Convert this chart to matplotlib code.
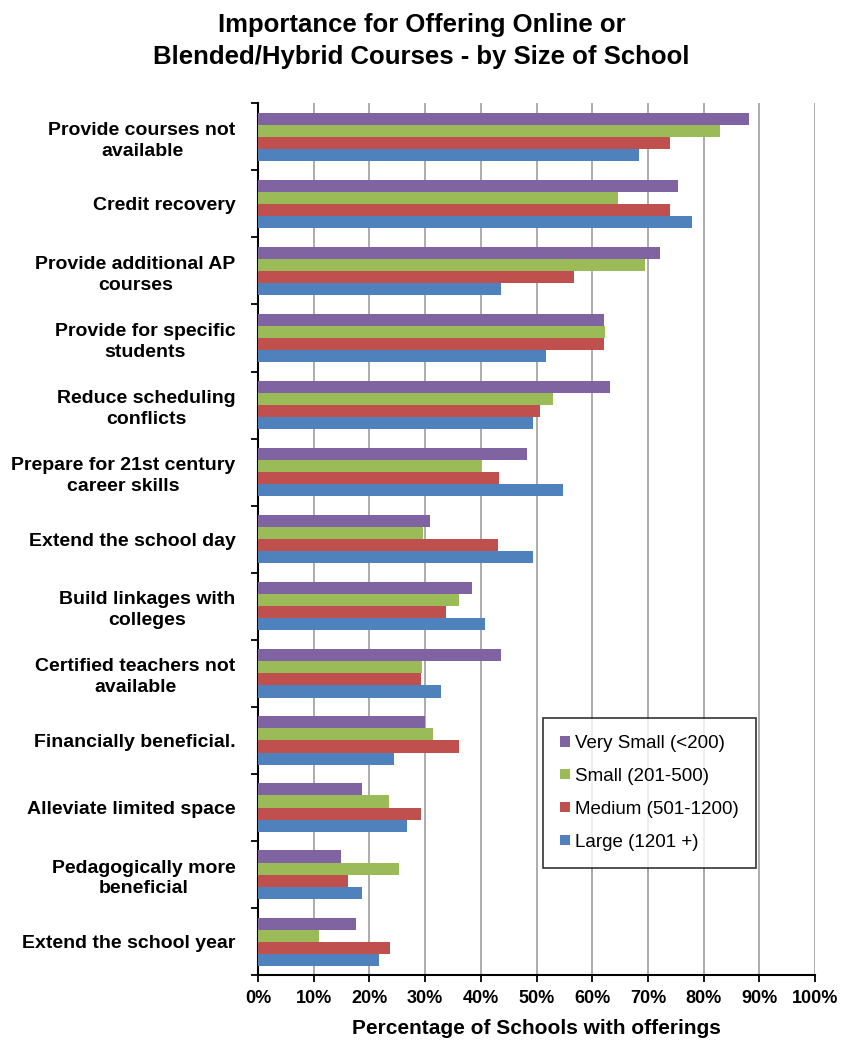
import numpy as np
import matplotlib
matplotlib.use('Agg')
import matplotlib.pyplot as plt
from matplotlib.ticker import PercentFormatter

plt.rcParams['font.family'] = ['Liberation Sans', 'DejaVu Sans']

categories = [
    'Provide courses not\navailable',
    'Credit recovery',
    'Provide additional AP\ncourses',
    'Provide for specific\nstudents',
    'Reduce scheduling\nconflicts',
    'Prepare for 21st century\ncareer skills',
    'Extend the school day',
    'Build linkages with\ncolleges',
    'Certified teachers not\navailable',
    'Financially beneficial.',
    'Alleviate limited space',
    'Pedagogically more\nbeneficial',
    'Extend the school year',
]
very_small = [88.2, 75.3, 72.1, 62.1, 63.2, 48.3, 30.8, 38.4, 43.7, 30.0, 18.6, 14.9, 17.6]
small = [82.9, 64.7, 69.4, 62.3, 53.0, 40.1, 29.7, 36.1, 29.5, 31.4, 23.5, 25.3, 11.0]
medium = [74.0, 74.0, 56.8, 62.1, 50.7, 43.2, 43.0, 33.8, 29.2, 36.1, 29.2, 16.1, 23.7]
large = [68.3, 77.9, 43.7, 51.7, 49.4, 54.7, 49.4, 40.7, 32.9, 24.4, 26.7, 18.6, 21.7]

series = [very_small, small, medium, large]
labels = ['Very Small (<200)', 'Small (201-500)', 'Medium (501-1200)', 'Large (1201 +)']
colors = ['#8064A2', '#9BBB59', '#C0504D', '#4F81BD']

fig = plt.figure(figsize=(8.43, 10.43), dpi=100)
ax = fig.add_axes([0.306, 0.065, 0.661, 0.836])

n = len(categories)
y = np.arange(n)
h = 0.18
for i, (vals, lab, col) in enumerate(zip(series, labels, colors)):
    offs = (i - 1.5) * h
    ax.barh(y + offs, vals, height=h, color=col, label=lab, zorder=3,
            edgecolor='none')

ax.set_ylim(n - 0.5, -0.5)
ax.set_xlim(0, 100)
ax.set_xticks(np.arange(0, 101, 10))
ax.xaxis.set_major_formatter(PercentFormatter(decimals=0))
ax.grid(axis='x', color='#A6A6A6', linewidth=1.3, zorder=0)

# category labels: block right-aligned, lines centred (Excel style)
ax.set_yticks(y)
ax.set_yticklabels(categories, fontsize=14, fontweight='bold', ma='center',
                   linespacing=1.3)
ax.tick_params(axis='y', length=0, pad=16)
ax.set_yticks(np.arange(-0.5, n, 1), minor=True)
ax.tick_params(axis='y', which='minor', length=5, width=1.3, direction='out')
ax.tick_params(axis='x', length=5, width=1.3, direction='out', labelsize=13, pad=6)
for t in ax.get_xticklabels():
    t.set_fontweight('bold')

for s in ['top', 'right']:
    ax.spines[s].set_visible(False)
for s in ['left', 'bottom']:
    ax.spines[s].set_linewidth(1.5)
    ax.spines[s].set_color('black')

ax.set_xlabel('Percentage of Schools with offerings', fontsize=15,
              fontweight='bold', labelpad=8)

fig.suptitle('Importance for Offering Online or\nBlended/Hybrid Courses - by Size of School',
             fontsize=18.5, fontweight='bold', y=0.988, linespacing=1.45)

leg = ax.legend(loc='upper left', bbox_to_anchor=(0.512, 0.295), fontsize=13.5,
                frameon=True, fancybox=False, edgecolor='black',
                handlelength=0.5, handleheight=0.5, handletextpad=0.3,
                labelspacing=0.85, borderpad=0.9, borderaxespad=0)
leg.get_frame().set_linewidth(1.2)

fig.savefig('out.png', dpi=100)
